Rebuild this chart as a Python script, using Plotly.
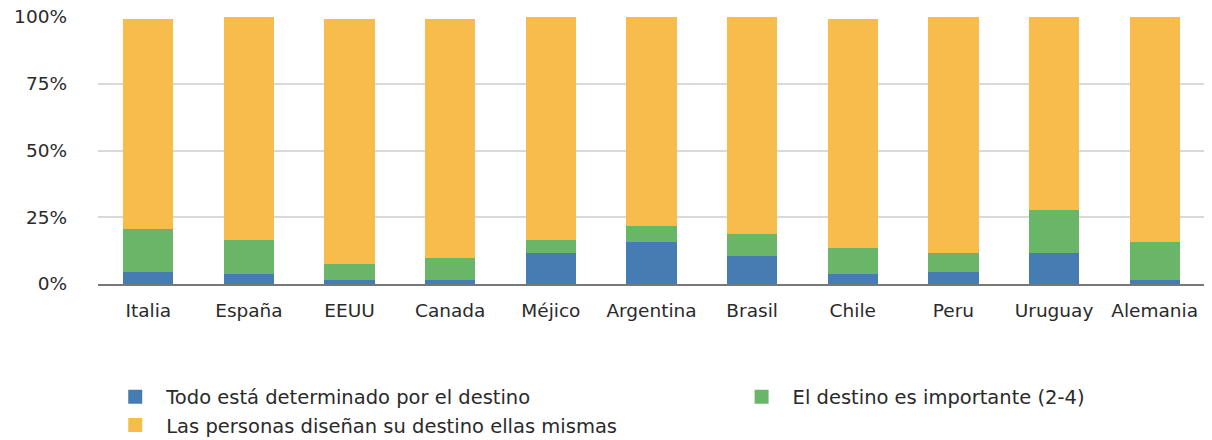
import plotly.graph_objects as go

countries = ["Italia", "España", "EEUU", "Canada", "Méjico", "Argentina",
             "Brasil", "Chile", "Peru", "Uruguay", "Alemania"]
todo_destino = [5, 4, 2, 2, 12, 16, 11, 4, 5, 12, 2]
destino_importante = [16, 13, 6, 8, 5, 6, 8, 10, 7, 16, 14]
personas_disenan = [78, 83, 91, 89, 83, 78, 81, 85, 88, 72, 84]

name_blue = "Todo está determinado por el destino"
name_green = "El destino es importante (2-4)"
name_yellow = "Las personas diseñan su destino ellas mismas"

c_blue, c_green, c_yellow = "#457CB2", "#6AB668", "#F7BC4B"

fig = go.Figure()
fig.add_trace(go.Bar(x=countries, y=todo_destino, name=name_blue,
                     marker=dict(color=c_blue, line=dict(width=2, color=c_blue)), legend="legend"))
fig.add_trace(go.Bar(x=countries, y=destino_importante, name=name_green,
                     marker=dict(color=c_green, line=dict(width=2, color=c_green)), legend="legend2"))
fig.add_trace(go.Bar(x=countries, y=personas_disenan, name=name_yellow,
                     marker=dict(color=c_yellow, line=dict(width=2, color=c_yellow)), legend="legend3"))

font_family = "DejaVu Sans, Verdana, sans-serif"
text_color = "#2a2a2a"

legend_common = dict(xref="container", yref="container", xanchor="left", yanchor="top",
                     orientation="v", font=dict(size=19.5, color=text_color),
                     itemwidth=52, bgcolor="rgba(0,0,0,0)")

fig.update_layout(
    width=1212, height=440,
    barmode="stack", bargap=0.52,
    plot_bgcolor="white", paper_bgcolor="white",
    margin=dict(l=90, r=15, t=9, b=164, autoexpand=False),
    font=dict(family=font_family, size=18.5, color=text_color),
    xaxis=dict(showgrid=False, showline=True, linecolor="#777777", linewidth=2,
               ticks="", ticklabelstandoff=9, tickangle=0,
               tickfont=dict(size=18.5, color=text_color)),
    yaxis=dict(range=[0, 100], tickvals=[0, 25, 50, 75, 100],
               ticktext=["0%", "25%", "50%", "75%", "100%"],
               showgrid=True, gridcolor="#D9D9D9", gridwidth=2,
               zeroline=False, ticks="", ticklabelstandoff=30,
               ticklabeloverflow="allow",
               tickfont=dict(size=18.5, color=text_color)),
    legend=dict(x=0.0794, y=0.16, **legend_common),
    legend2=dict(x=0.5962, y=0.16, **legend_common),
    legend3=dict(x=0.0794, y=0.096, **legend_common),
    showlegend=True,
)

fig.write_html("out.html")
